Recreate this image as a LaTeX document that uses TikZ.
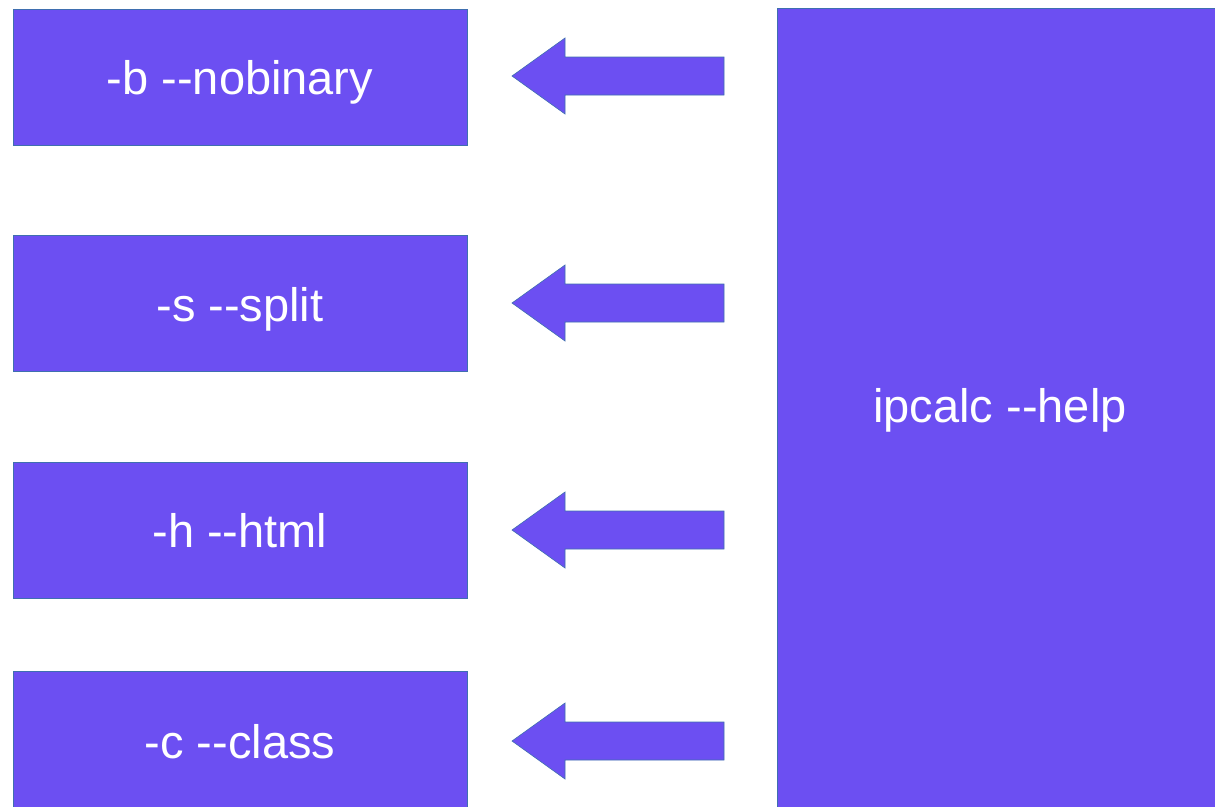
\documentclass[tikz,border=0pt]{standalone}
\usepackage{fontspec}
\setmainfont{Liberation Sans}
\definecolor{boxfill}{HTML}{6C4FF2}
\definecolor{boxline}{HTML}{3F6FB0}
\begin{document}
\begin{tikzpicture}[x=1pt,y=-1pt,
  optbox/.style={draw=boxline,line width=0.8pt,fill=boxfill,text=white,
    minimum width=454pt,minimum height=136pt,inner sep=0pt,
    font=\fontsize{47}{56}\selectfont},
  bigbox/.style={draw=boxline,line width=0.8pt,fill=boxfill,text=white,
    minimum width=446pt,minimum height=804pt,inner sep=0pt,
    font=\fontsize{47}{56}\selectfont},
  lbl/.style={text=white,inner sep=0pt,font=\fontsize{47}{56}\selectfont},
  blockarrow/.style={draw=boxline,line width=0.6pt,fill=boxfill,line join=miter}]
\useasboundingbox (0,0) rectangle (1215,806);
\fill[white] (0,0) rectangle (1215,806);
\node[optbox] (b) at (240,77) {};
\node[optbox] (s) at (240,303) {};
\node[optbox] (h) at (240,530) {};
\node[optbox] (c) at (240,739) {};
\node[bigbox] (help) at (1000,410) {};
\node[lbl,anchor=base] (bt) at (240,94) {-b -{}-nobinary};
\node[lbl,anchor=base] (st) at (240,321) {-s -{}-split};
\node[lbl,anchor=base] (ht) at (240,547) {-h -{}-html};
\node[lbl,anchor=base] (ct) at (240,758) {-c -{}-class};
\node[lbl,anchor=base] (helpt) at (1000,422) {ipcalc -{}-help};
\foreach \cy in {76,303,530,741}{
  \draw[blockarrow] (512,\cy) -- (565,\cy-38) -- (565,\cy-19) -- (724,\cy-19)
    -- (724,\cy+19) -- (565,\cy+19) -- (565,\cy+38) -- cycle;
}
\end{tikzpicture}
\end{document}
